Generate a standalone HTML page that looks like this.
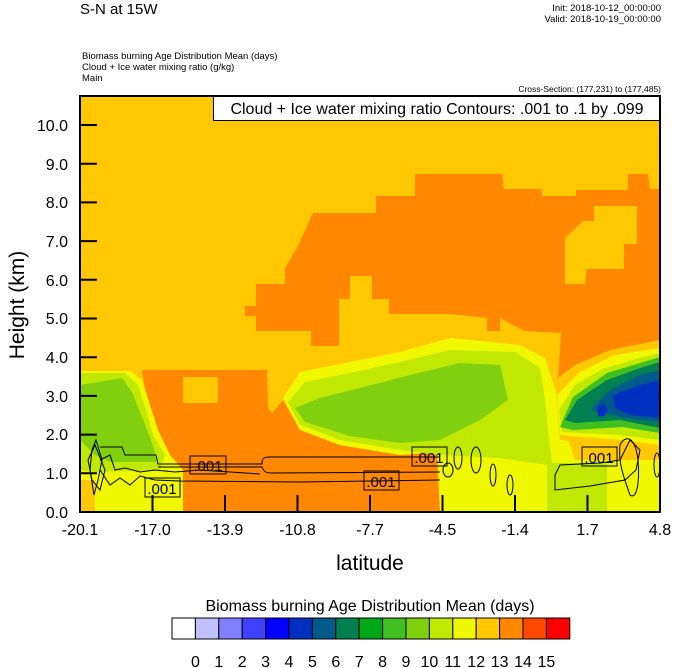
<!DOCTYPE html>
<html><head><style>
body{margin:0;background:#fff;}
svg{display:block;font-family:"Liberation Sans",Arial,sans-serif;}
</style></head><body>
<svg width="674" height="668" viewBox="0 0 674 668" xmlns="http://www.w3.org/2000/svg">
<rect width="674" height="668" fill="#fff"/>
<text x="80" y="14" font-size="15">S-N at 15W</text>
<text x="661" y="11" font-size="9.5" text-anchor="end">Init: 2018-10-12_00:00:00</text>
<text x="661" y="22" font-size="9.5" text-anchor="end">Valid: 2018-10-19_00:00:00</text>
<text x="82" y="59" font-size="9.5">Biomass burning Age Distribution Mean    (days)</text>
<text x="82" y="70" font-size="9.5">Cloud + Ice water mixing ratio    (g/kg)</text>
<text x="82" y="81" font-size="9.5">Main</text>
<text x="661" y="92" font-size="8.5" text-anchor="end">Cross-Section: (177,231) to (177,485)</text>
<defs><clipPath id="c"><rect x="80" y="96" width="580" height="416"/></clipPath></defs>
<g clip-path="url(#c)">
<rect x="80" y="96" width="580" height="416" fill="#ffc800"/>
<!-- upper orange -->
<path fill="#ff8800" d="M415,174 L502,174 L504,189 L541,189 L542,196 L576,196 L576,190 L628,190 L628,174 L648,174 L650,189 L660,189 L660,345 L630,360 L600,370 L570,395 L557,395 L561,333 L524,331 L500,318 L500,331 L487,331 L487,318 L450,314 L389,314 L389,299 L372,299 L372,276 L350,276 L350,299 L339,299 L339,346 L311,346 L311,331 L256,331 L256,316 L245,316 L245,306 L256,306 L256,284 L285,284 L285,268 L298,246 L313,213 L376,213 L376,196 L415,196 Z"/>
<path fill="#ffc800" d="M594,206 L637,206 L637,244 L624,244 L624,269 L587,269 L585,284 L565,284 L565,238 L583,221 L594,221 Z"/>
<!-- lower left orange -->
<path fill="#ff8800" d="M142,370 L267,370 L268,408 L272,413 L283,400 L300,430 L340,445 L400,455 L437,452 L440,512 L183,512 L183,490 L175,462 L160,445 L152,415 L146,395 Z"/>
<path fill="#ffc800" d="M183,377 L218,377 L218,403 L183,403 Z"/>
<path fill="#ff8800" d="M80,420 L88,420 L88,490 L80,490 Z"/>
<!-- left green area -->
<path fill="#f0f800" d="M80,371 L130,371 L142,380 L150,405 L158,430 L170,455 L183,470 L183,512 L95,512 L95,480 L80,480 Z"/>
<path fill="#c0e800" d="M80,373 L125,373 L138,385 L146,410 L153,435 L165,455 L160,470 L95,472 L80,470 Z"/>
<path fill="#80d010" d="M80,385 L110,380 L122,378 L132,392 L140,412 L148,432 L155,452 L156,462 L110,462 L95,455 L80,440 Z"/>
<path fill="#ffc800" d="M80,480 L95,480 L95,512 L80,512 Z"/>
<!-- middle green band -->
<path fill="#f0f800" d="M283,398 L300,372 L350,362 L400,352 L450,338 L520,345 L545,358 L557,395 L565,430 L575,460 L660,460 L660,512 L440,512 L437,452 L400,455 L340,445 L300,430 Z"/>
<path fill="#c0e800" d="M288,402 L305,382 L355,372 L400,362 L450,350 L515,352 L540,368 L545,400 L548,430 L552,463 L607,463 L607,512 L547,512 L547,465 L500,458 L440,455 L400,450 L340,440 L300,425 Z"/>
<path fill="#80d010" d="M295,408 L320,398 L360,388 L410,375 L460,363 L500,365 L508,400 L480,420 L440,440 L400,443 L350,436 L305,422 Z"/>
<!-- right blue blob -->
<path fill="#ffc800" d="M555,380 L575,365 L610,350 L660,340 L660,450 L620,445 L560,440 Z"/>
<path fill="#f0f800" d="M557,395 L580,372 L615,355 L660,348 L660,445 L620,440 L560,435 Z"/>
<path fill="#c0e800" d="M559,410 L575,385 L605,368 L640,358 L660,353 L660,440 L620,435 L562,432 Z"/>
<path fill="#40c020" d="M560,427 L573,397 L607,373 L640,363 L660,357 L660,433 L623,427 L573,430 Z"/>
<path fill="#008050" d="M565,420 L577,400 L607,380 L640,368 L660,362 L660,428 L620,420 L575,423 Z"/>
<path fill="#005a8a" d="M590,410 L610,390 L640,375 L660,370 L660,422 L625,418 Z"/>
<path fill="#0030c0" d="M613,395 L640,385 L660,380 L660,418 L630,415 L615,408 Z M597,408 L603,403 L608,410 L604,417 L598,416 Z"/>
</g>
<!-- contours -->
<g fill="none" stroke="#000" stroke-width="1">
<path d="M100,447 L122,447 L125,455 L156,455 L158,464 L262,464 C262,458 264,457 270,457 L440,457"/>
<path d="M158,467 L262,467 C264,472 266,473 272,473 L440,472"/>
<path d="M100,460 L110,455 L115,470 L125,468 L140,472 L155,470 L175,472 L200,470 L260,474"/>
<path d="M100,470 L110,485 L120,478 L130,485 L140,476 L155,480 L180,481 L300,482 L440,480"/>
<path d="M92,450 L96,440 L102,460 L98,480 L94,495 L90,470 Z"/>
<path d="M88,460 L95,445 L105,470 L100,490 L92,480 Z"/>
<ellipse cx="458" cy="458" rx="4" ry="11"/>
<ellipse cx="476" cy="460" rx="5" ry="13"/>
<ellipse cx="493" cy="475" rx="3" ry="11"/>
<ellipse cx="510" cy="485" rx="3" ry="10"/>
<ellipse cx="448" cy="470" rx="5" ry="7"/>
<path d="M555,475 L560,465 L600,463 L620,460 L630,440 L640,450 L636,470 L625,480 L590,486 L555,490 Z"/>
<path d="M620,445 C625,435 635,435 638,460 C640,485 636,500 630,495 C625,480 618,465 620,445 Z"/>
<ellipse cx="657" cy="465" rx="3" ry="12"/>
</g>
<g font-size="15" fill="#000">
<rect x="190" y="456" width="36" height="18" fill="none" stroke="#000"/><text x="208" y="471" text-anchor="middle">.001</text>
<rect x="145" y="478" width="35" height="19" fill="none" stroke="#000"/><text x="162" y="494" text-anchor="middle">.001</text>
<rect x="364" y="471" width="35" height="19" fill="none" stroke="#000"/><text x="381" y="487" text-anchor="middle">.001</text>
<rect x="412" y="447" width="35" height="19" fill="none" stroke="#000"/><text x="429" y="463" text-anchor="middle">.001</text>
<rect x="582" y="447" width="35" height="19" fill="none" stroke="#000"/><text x="599" y="463" text-anchor="middle">.001</text>
</g>
<!-- legend box -->
<rect x="213.5" y="96.5" width="446" height="24" fill="#fff" stroke="#000"/>
<text x="437" y="114" font-size="16" text-anchor="middle">Cloud + Ice water mixing ratio Contours: .001 to .1 by .099</text>
<!-- axes frame -->
<rect x="80" y="96" width="580" height="416" fill="none" stroke="#000" stroke-width="2"/>
<g stroke="#000" stroke-width="2">
<line x1="80" y1="473.3" x2="97" y2="473.3"/><line x1="80" y1="434.6" x2="97" y2="434.6"/><line x1="80" y1="395.9" x2="97" y2="395.9"/><line x1="80" y1="357.2" x2="97" y2="357.2"/><line x1="80" y1="318.5" x2="97" y2="318.5"/><line x1="80" y1="279.8" x2="97" y2="279.8"/><line x1="80" y1="241.1" x2="97" y2="241.1"/><line x1="80" y1="202.4" x2="97" y2="202.4"/><line x1="80" y1="163.7" x2="97" y2="163.7"/><line x1="80" y1="125" x2="97" y2="125"/>
<line x1="152.5" y1="512" x2="152.5" y2="495"/><line x1="225" y1="512" x2="225" y2="495"/><line x1="297.5" y1="512" x2="297.5" y2="495"/><line x1="370" y1="512" x2="370" y2="495"/><line x1="442.5" y1="512" x2="442.5" y2="495"/><line x1="515" y1="512" x2="515" y2="495"/><line x1="587.5" y1="512" x2="587.5" y2="495"/>
</g>
<g font-size="16" text-anchor="end">
<text x="68" y="518">0.0</text><text x="68" y="479">1.0</text><text x="68" y="440">2.0</text><text x="68" y="402">3.0</text><text x="68" y="363">4.0</text><text x="68" y="324">5.0</text><text x="68" y="286">6.0</text><text x="68" y="247">7.0</text><text x="68" y="208">8.0</text><text x="68" y="170">9.0</text><text x="68" y="131">10.0</text>
</g>
<g font-size="16" text-anchor="middle">
<text x="80" y="535">-20.1</text><text x="152.5" y="535">-17.0</text><text x="225" y="535">-13.9</text><text x="297.5" y="535">-10.8</text><text x="370" y="535">-7.7</text><text x="442.5" y="535">-4.5</text><text x="515" y="535">-1.4</text><text x="587.5" y="535">1.7</text><text x="660" y="535">4.8</text>
</g>
<text x="370" y="570" font-size="21" text-anchor="middle">latitude</text>
<text transform="translate(24,305) rotate(-90)" font-size="21" text-anchor="middle">Height (km)</text>
<!-- colorbar -->
<text x="370" y="611" font-size="16" text-anchor="middle">Biomass burning Age Distribution Mean  (days)</text>
<g stroke="#000" stroke-width="1">
<rect x="172" y="618" width="23.4" height="21" fill="#ffffff"/>
<rect x="195.4" y="618" width="23.4" height="21" fill="#c0c0ff"/>
<rect x="218.8" y="618" width="23.4" height="21" fill="#8080ff"/>
<rect x="242.2" y="618" width="23.4" height="21" fill="#4040ff"/>
<rect x="265.6" y="618" width="23.4" height="21" fill="#0000ff"/>
<rect x="289" y="618" width="23.4" height="21" fill="#0030c0"/>
<rect x="312.4" y="618" width="23.4" height="21" fill="#005a8a"/>
<rect x="335.8" y="618" width="23.4" height="21" fill="#008050"/>
<rect x="359.2" y="618" width="23.4" height="21" fill="#00a818"/>
<rect x="382.6" y="618" width="23.4" height="21" fill="#40c020"/>
<rect x="406" y="618" width="23.4" height="21" fill="#80d010"/>
<rect x="429.4" y="618" width="23.4" height="21" fill="#c0e800"/>
<rect x="452.8" y="618" width="23.4" height="21" fill="#f0f800"/>
<rect x="476.2" y="618" width="23.4" height="21" fill="#ffc800"/>
<rect x="499.6" y="618" width="23.4" height="21" fill="#ff8800"/>
<rect x="523" y="618" width="23.4" height="21" fill="#ff4800"/>
<rect x="546.4" y="618" width="23.4" height="21" fill="#ff0000"/>
</g>
<g font-size="16" text-anchor="middle">
<text x="195.4" y="667">0</text><text x="218.8" y="667">1</text><text x="242.2" y="667">2</text><text x="265.6" y="667">3</text><text x="289" y="667">4</text><text x="312.4" y="667">5</text><text x="335.8" y="667">6</text><text x="359.2" y="667">7</text><text x="382.6" y="667">8</text><text x="406" y="667">9</text><text x="429.4" y="667">10</text><text x="452.8" y="667">11</text><text x="476.2" y="667">12</text><text x="499.6" y="667">13</text><text x="523" y="667">14</text><text x="546.4" y="667">15</text>
</g>
</svg>
</body></html>
